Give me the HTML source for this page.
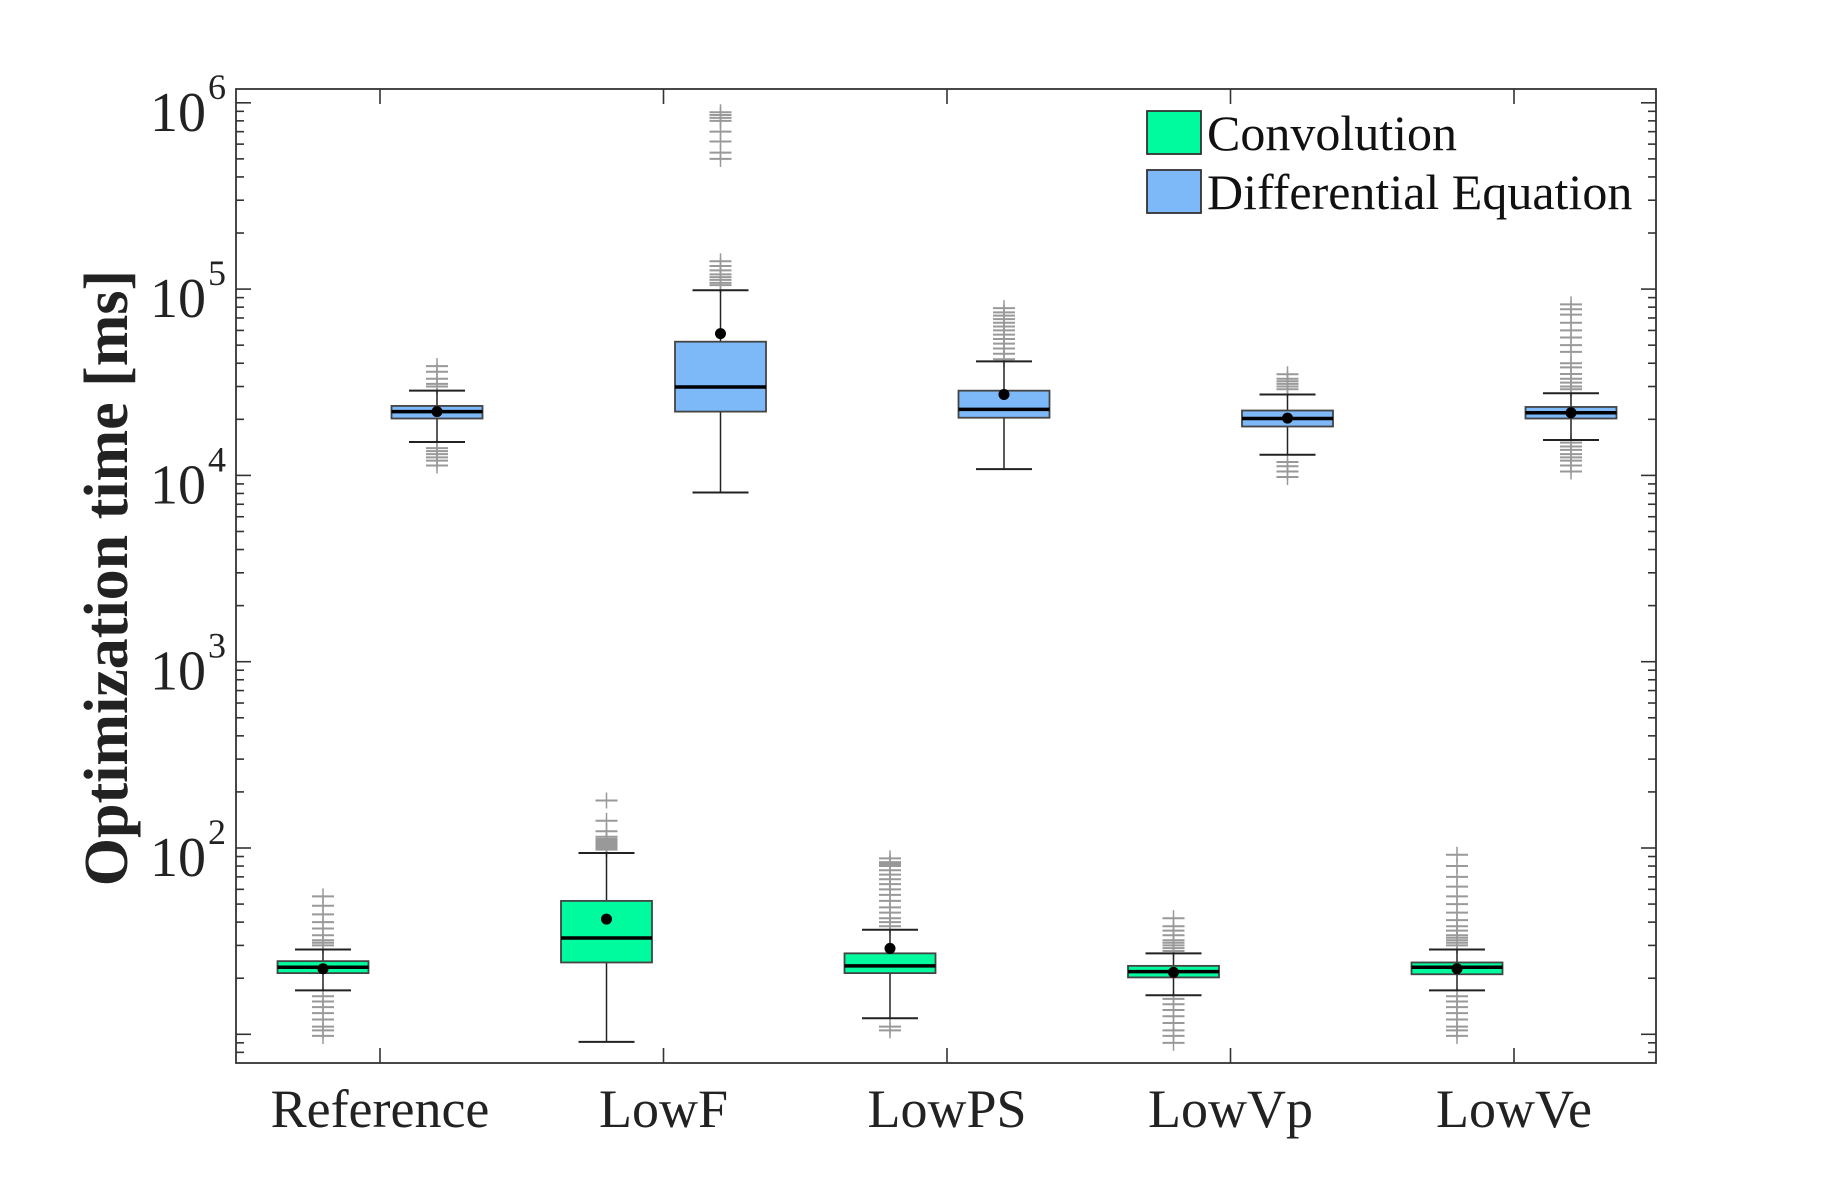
<!DOCTYPE html>
<html><head><meta charset="utf-8">
<style>
html,body{margin:0;padding:0;background:#fff;}
svg{display:block;font-family:"Liberation Serif",serif;}
</style></head>
<body>
<svg id="chart" width="1832" height="1195" viewBox="0 0 1832 1195" xmlns="http://www.w3.org/2000/svg"></svg>
<script>
const categories = ["Reference","LowF","LowPS","LowVp","LowVe"];
// Convolution: [lowWhisker, q1, median, q3, highWhisker, mean]
const convStats = [
  [17.2, 21.3, 22.9, 24.7, 28.5, 22.5],
  [9.1, 24.3, 32.9, 52, 94, 41.5],
  [12.2, 21.3, 23.3, 27.2, 36.4, 28.9],
  [16.2, 20.2, 21.7, 23.3, 27.2, 21.5],
  [17.2, 21, 22.9, 24.3, 28.5, 22.5]
];
const deStats = [
  [15100, 20200, 22000, 23600, 28500, 22000],
  [8100, 22000, 29800, 52200, 98600, 57700],
  [10800, 20400, 22600, 28500, 40900, 27200],
  [12900, 18300, 20200, 22300, 27200, 20300],
  [15500, 20200, 21700, 23300, 27600, 21700]
];
const convOutliers = [
  [30,31,32,34,37,40,44,49,55,16,15,14,13,12,11,10.5,9.8],
  [98,100,102,104,106,108,110,112,115,123,140,180],
  [38,40,42,45,48,52,56,60,64,68,72,76,80,82,84,88,11,10.5],
  [28,29,30,31,32,34,36,38,42,15.5,14.5,13.5,12.5,11.5,10.5,9.8,9],
  [30,31,32,33,34,36,38,41,45,50,55,62,70,80,92,16,15,14,13,12,11,10.5,9.8]
];
const deOutliers = [
  [30000,31000,33000,36000,38600,14000,13500,13000,12500,12000,11300],
  [105000,108000,112000,116000,120000,126000,133000,141000,500000,540000,620000,700000,800000,830000,860000,890000],
  [42000,45000,48000,51000,54000,57000,60000,63000,66000,69000,72000,75000,79000],
  [29000,30000,31000,32000,33000,34900,11800,11200,10500,9800],
  [29000,30000,31500,33000,35000,38000,40000,46000,50000,55000,60000,66000,73000,78000,82800,15000,14300,13700,13000,12500,12000,11300,10500]
];
const yTickExps = [2,3,4,5,6];

const NS="http://www.w3.org/2000/svg";
const svg=document.getElementById('chart');
const L=236,R=1656,T=89,B=1063;
const decPx=186.3, y2=848;
function yScale(v){return y2-(Math.log10(v)-2)*decPx;}
const x0=380, xStep=283.5;
function xScale(i){return x0+i*xStep;}
function mk(tag,attrs,parent){const e=document.createElementNS(NS,tag);for(const k in attrs)e.setAttribute(k,attrs[k]);(parent||svg).appendChild(e);return e;}

const frame=mk('rect',{x:L,y:T,width:R-L,height:B-T,fill:'none',stroke:'#333','stroke-width':1.8});



const yMinV=Math.pow(10,2-(B-y2)/decPx), yMaxV=Math.pow(10,2+(y2-T)/decPx);
for(let e=0;e<=6;e++){for(let m=1;m<10;m++){const v=m*Math.pow(10,e);if(v<yMinV||v>yMaxV)continue;const y=yScale(v);const len=m===1?15:8;
 mk('line',{x1:L,x2:L+len,y1:y,y2:y,stroke:'#333','stroke-width':1.6});
 mk('line',{x1:R,x2:R-len,y1:y,y2:y,stroke:'#333','stroke-width':1.6});}}
yTickExps.forEach(e=>{const y=yScale(Math.pow(10,e));
 const t=mk('text',{x:206,y:y+28,'text-anchor':'end','font-size':56,fill:'#222'});
 
 
 t.textContent='10';
 const s=mk('text',{x:208,y:y-4,'font-size':36,fill:'#222'});
 
 
 s.textContent=String(e);
});

categories.forEach((c,i)=>{const x=xScale(i);
 mk('line',{x1:x,x2:x,y1:B,y2:B-15,stroke:'#333','stroke-width':1.6});
 mk('line',{x1:x,x2:x,y1:T,y2:T+15,stroke:'#333','stroke-width':1.6});
 const t=mk('text',{x:x,y:1127,'text-anchor':'middle','font-size':54,fill:'#222'});
 
 
 t.textContent=c;
});

const yt=mk('text',{x:0,y:0,transform:'translate(127,578) rotate(-90)','text-anchor':'middle','font-size':62,'font-weight':'bold',fill:'#222'});


yt.textContent='Optimization time [ms]';

function drawBox(stats,outs,i,off,fill,name){
 const g=mk('g',{});
 
 
 const cx=xScale(i)+off, bw=91, cw=56;
 const [lw,q1,med,q3,hw,mean]=stats;
 outs.forEach(v=>{const y=yScale(v);
  mk('line',{x1:cx-11,x2:cx+11,y1:y,y2:y,stroke:'#999','stroke-width':2},g);
  mk('line',{x1:cx,x2:cx,y1:y-8,y2:y+8,stroke:'#999','stroke-width':1.5},g);});
 mk('line',{x1:cx,x2:cx,y1:yScale(hw),y2:yScale(lw),stroke:'#222','stroke-width':1.5},g);
 mk('line',{x1:cx-cw/2,x2:cx+cw/2,y1:yScale(hw),y2:yScale(hw),stroke:'#222','stroke-width':2},g);
 mk('line',{x1:cx-cw/2,x2:cx+cw/2,y1:yScale(lw),y2:yScale(lw),stroke:'#222','stroke-width':2},g);
 mk('rect',{x:cx-bw/2,y:yScale(q3),width:bw,height:yScale(q1)-yScale(q3),fill:fill,stroke:'#444','stroke-width':1.8},g);
 mk('line',{x1:cx-bw/2,x2:cx+bw/2,y1:yScale(med),y2:yScale(med),stroke:'#000','stroke-width':3.5},g);
 mk('circle',{cx:cx,cy:yScale(mean),r:5.5,fill:'#000'},g);
}
categories.forEach((c,i)=>{
 drawBox(convStats[i],convOutliers[i],i,-57,'#00FA9E','conv-box-'+c.toLowerCase());
 drawBox(deStats[i],deOutliers[i],i,57,'#7DB8F8','de-box-'+c.toLowerCase());
});

const lg=mk('g',{});


mk('rect',{x:1147,y:111,width:54,height:43,fill:'#00FA9E',stroke:'#333','stroke-width':1.8},lg);
mk('rect',{x:1147,y:170,width:54,height:43,fill:'#7DB8F8',stroke:'#333','stroke-width':1.8},lg);
const l1=mk('text',{x:1207,y:150,'font-size':50,fill:'#111'},lg);


l1.textContent='Convolution';
const l2=mk('text',{x:1207,y:209,'font-size':50,fill:'#111'},lg);


l2.textContent='Differential Equation';
</script>
</body></html>
